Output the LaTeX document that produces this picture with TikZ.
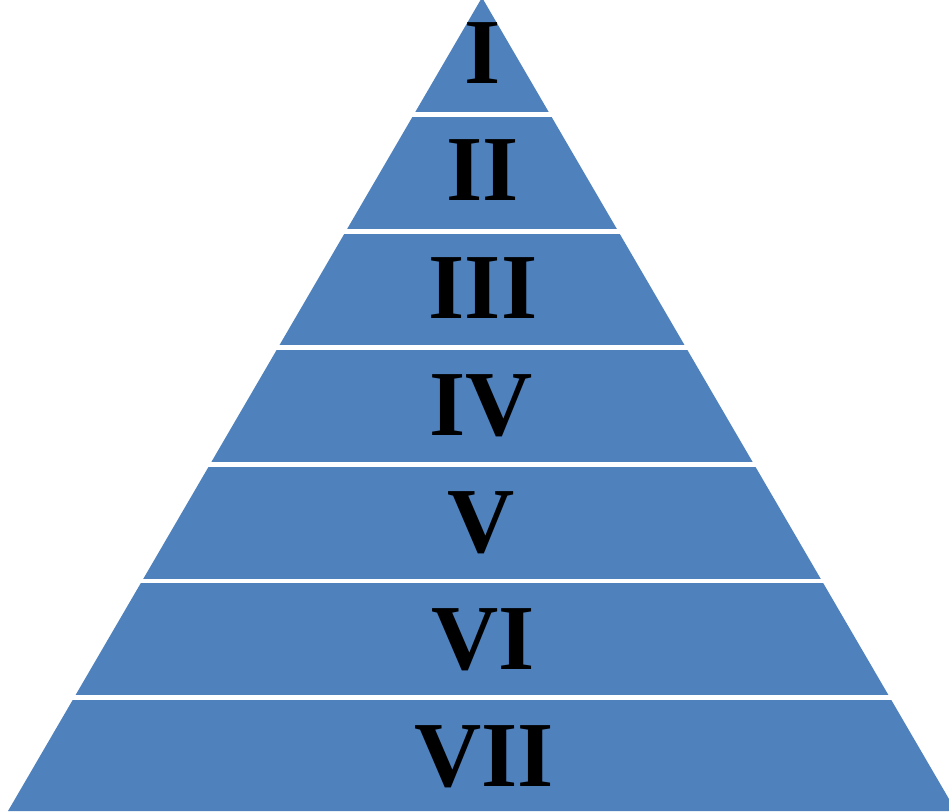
\documentclass[tikz,border=0pt]{standalone}
\usepackage{fontspec}
\setmainfont{Liberation Serif}
\definecolor{pyrblue}{HTML}{4F81BD}
\tikzset{
  lbl/.style={anchor=base, inner sep=0pt, font=\fontsize{93}{93}\selectfont\bfseries, text=black},
  sep/.style={draw=white, line width=4.8pt}
}
\begin{document}
\begin{tikzpicture}[x=1pt,y=-1pt]
\useasboundingbox (0,0) rectangle (949,811);
\clip (0,0) rectangle (949,811);
\fill[pyrblue] (482,-2.5) -- (956,811) -- (8,811) -- cycle;
\foreach \yy in {114.5,231.2,347.8,464.4,581.0,697.6}{
  \draw[sep] (-10,\yy) -- (960,\yy);
}
\node[lbl] (l1) at (483,83.5) {I};
\node[lbl] (l2) at (483,200) {II};
\node[lbl] (l3) at (483,318.5) {III};
\node[lbl] (l4) at (481,435.5) {IV};
\node[lbl] (l5) at (481,552.5) {V};
\node[lbl] (l6) at (483,669) {VI};
\node[lbl] (l7) at (484,786) {VII};
\end{tikzpicture}
\end{document}
